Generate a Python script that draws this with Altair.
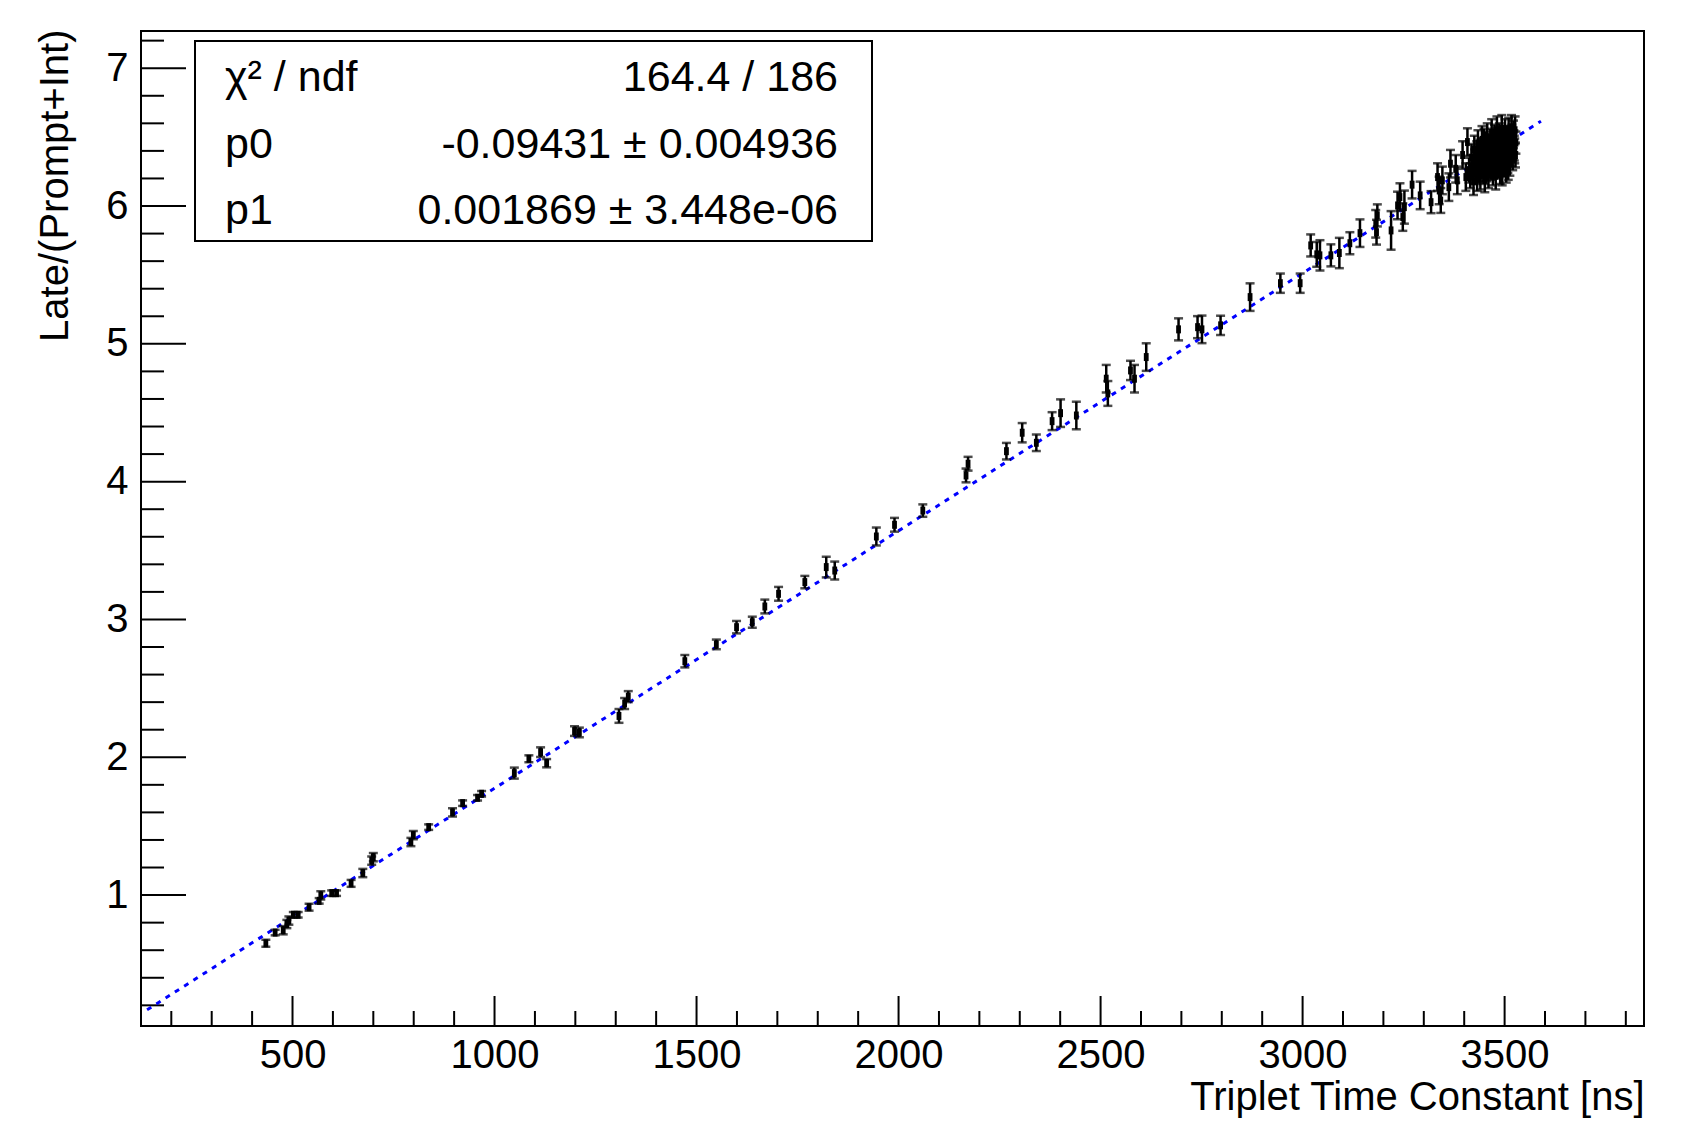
import altair as alt
import pandas as pd

# Measured points: triplet time constant [ns], Late/(Prompt+Int) ratio, and its uncertainty
triplet_tau = [
    434, 457, 477, 486, 491, 502, 514, 541, 566, 570, 597, 609, 645, 674, 696, 700,
    793, 799, 837, 896, 921, 958, 968,
    1049, 1085, 1114, 1129, 1198, 1210, 1308, 1322, 1331, 1471, 1549, 1599, 1638,
    1669, 1703, 1768, 1821, 1842, 1945, 1990, 2060, 2167, 2172,
    2267, 2306, 2341, 2380, 2401, 2440, 2514, 2518, 2574, 2584, 2613, 2693, 2740,
    2751, 2797, 2870, 2945, 2994, 3020, 3035, 3043, 3070, 3091,
    3117, 3142, 3181, 3183, 3185, 3219, 3235, 3241, 3248, 3252, 3271, 3291, 3318,
    3334, 3338, 3342, 3346, 3362, 3366, 3379, 3383, 3396, 3404, 3408,
    3412, 3415, 3418, 3421, 3423, 3425, 3426, 3427, 3429, 3431, 3432, 3433, 3434,
    3436, 3437, 3438, 3439, 3440, 3442, 3443, 3444, 3445, 3447, 3448, 3449, 3450,
    3451, 3453, 3454, 3456, 3457, 3458, 3459, 3460, 3462, 3463, 3464, 3465, 3466,
    3467, 3468, 3469, 3470, 3471, 3472, 3474, 3475, 3476, 3477, 3478, 3480, 3481,
    3482, 3483, 3484, 3485, 3486, 3487, 3489, 3490, 3492, 3493, 3494, 3495, 3496,
    3498, 3499, 3500, 3501, 3502, 3503, 3504, 3505, 3507, 3508, 3509, 3510, 3511,
    3512, 3513, 3514, 3516, 3517, 3518, 3519, 3520, 3521, 3522, 3523, 3524, 3525,
    3526, 3527, 3528,
]
late_ratio = [
    0.650, 0.728, 0.745, 0.790, 0.815, 0.857, 0.857, 0.912, 0.958, 0.998, 1.014, 1.014,
    1.085, 1.160, 1.250, 1.275, 1.385, 1.435, 1.493, 1.600, 1.667, 1.706, 1.735,
    1.885, 1.989, 2.037, 1.957, 2.190, 2.180, 2.300, 2.390, 2.440, 2.697, 2.819, 2.944,
    2.980, 3.094, 3.186, 3.271, 3.380, 3.355, 3.602, 3.687, 3.790, 4.045, 4.130,
    4.221, 4.355, 4.282, 4.439, 4.497, 4.480, 4.747, 4.640, 4.807, 4.747, 4.904, 5.105,
    5.121, 5.105, 5.134, 5.339, 5.440, 5.440, 5.714, 5.649, 5.642, 5.642, 5.659,
    5.730, 5.803, 5.871, 5.810, 5.932, 5.823, 6.004, 6.065, 5.920, 5.992, 6.155, 6.077,
    6.028, 6.210, 6.113, 6.040, 6.186, 6.137, 6.307, 6.270, 6.186, 6.370, 6.210, 6.464,
    6.26, 6.22, 6.35, 6.28, 6.18, 6.41, 6.33, 6.30, 6.24, 6.37, 6.20, 6.26, 6.45,
    6.31, 6.26, 6.28, 6.39, 6.22, 6.34, 6.40, 6.48, 6.29, 6.41, 6.25, 6.47, 6.36,
    6.19, 6.44, 6.32, 6.27, 6.50, 6.30, 6.38, 6.23, 6.42, 6.33, 6.35, 6.46, 6.28,
    6.40, 6.53, 6.37, 6.31, 6.25, 6.43, 6.31, 6.49, 6.45, 6.35, 6.22, 6.40, 6.55,
    6.48, 6.29, 6.45, 6.30, 6.36, 6.51, 6.26, 6.42, 6.33, 6.56, 6.24, 6.39, 6.47,
    6.30, 6.44, 6.40, 6.53, 6.37, 6.43, 6.27, 6.49, 6.41, 6.34, 6.28, 6.55, 6.45,
    6.38, 6.31, 6.50, 6.39, 6.57, 6.50, 6.43, 6.35, 6.44, 6.52, 6.47, 6.42, 6.40,
    6.55, 6.37, 6.46,
]
ratio_err = [
    0.025, 0.020, 0.030, 0.030, 0.030, 0.020, 0.020, 0.025, 0.020, 0.030, 0.020, 0.020,
    0.025, 0.030, 0.030, 0.030, 0.030, 0.030, 0.020, 0.030, 0.020, 0.020, 0.020,
    0.040, 0.025, 0.035, 0.030, 0.035, 0.035, 0.050, 0.040, 0.040, 0.045, 0.035, 0.045,
    0.040, 0.050, 0.050, 0.045, 0.075, 0.065, 0.065, 0.050, 0.045, 0.050, 0.050,
    0.060, 0.070, 0.060, 0.065, 0.100, 0.100, 0.100, 0.090, 0.070, 0.100, 0.100, 0.080,
    0.080, 0.100, 0.070, 0.100, 0.070, 0.070, 0.080, 0.090, 0.110, 0.080, 0.110,
    0.080, 0.100, 0.100, 0.090, 0.080, 0.140, 0.100, 0.100, 0.100, 0.120, 0.100, 0.100,
    0.080, 0.100, 0.100, 0.090, 0.100, 0.100, 0.100, 0.100, 0.100, 0.100, 0.100, 0.100,
    0.09, 0.09, 0.10, 0.09, 0.10, 0.10, 0.08, 0.09, 0.08, 0.10, 0.09, 0.09, 0.10,
    0.09, 0.08, 0.10, 0.09, 0.10, 0.09, 0.09, 0.10, 0.09, 0.08, 0.09, 0.09, 0.10,
    0.09, 0.10, 0.08, 0.09, 0.10, 0.10, 0.09, 0.10, 0.09, 0.08, 0.10, 0.10, 0.09,
    0.08, 0.10, 0.09, 0.10, 0.10, 0.08, 0.09, 0.10, 0.09, 0.09, 0.10, 0.09, 0.10,
    0.09, 0.08, 0.09, 0.10, 0.10, 0.09, 0.10, 0.08, 0.09, 0.10, 0.09, 0.09, 0.10,
    0.09, 0.08, 0.10, 0.10, 0.09, 0.10, 0.10, 0.09, 0.08, 0.10, 0.09, 0.09, 0.10,
    0.09, 0.09, 0.08, 0.10, 0.09, 0.09, 0.10, 0.09, 0.10, 0.10, 0.08, 0.09, 0.09,
    0.10, 0.09, 0.08,
]

# Linear fit results shown in the statistics box
fit_p0 = -0.09431
fit_p1 = 0.001869
fit_range = [140, 3590]
stat_names = ["χ² / ndf", "p0", "p1"]
stat_values = ["164.4 / 186", "-0.09431 ± 0.004936", "0.001869 ± 3.448e-06"]

# Axis tick positions
x_major = [500, 1000, 1500, 2000, 2500, 3000, 3500]
x_minor = [v for v in range(200, 3900, 100) if v % 500 != 0]
y_major = [1, 2, 3, 4, 5, 6, 7]
y_minor = [round(0.2 * k, 1) for k in range(1, 37) if k % 5 != 0]

W, H = 1503, 995
FONT = "Liberation Sans"

n = min(len(triplet_tau), len(late_ratio), len(ratio_err))
pts = pd.DataFrame({"x": triplet_tau[:n], "y": late_ratio[:n], "e": ratio_err[:n]})
pts["lo"] = pts["y"] - pts["e"]
pts["hi"] = pts["y"] + pts["e"]

fit = pd.DataFrame({"x": fit_range, "y": [fit_p0 + fit_p1 * v for v in fit_range]})

xs = alt.Scale(domain=[125, 3845], nice=False, zero=False)
ys = alt.Scale(domain=[0.05, 7.27], nice=False, zero=False)

x_axis = alt.Axis(
    values=x_major, format="d", title="Triplet Time Constant [ns]", grid=False,
    ticks=False, domain=False, labelFontSize=40, labelFont=FONT, labelPadding=9,
    labelColor="black", titleFont=FONT, titleFontSize=40, titleFontWeight="normal",
    titleColor="black", titleAnchor="end", titleAlign="right", titleX=W, titleY=83,
    titleBaseline="alphabetic",
)
y_axis = alt.Axis(
    values=y_major, format="d", title="Late/(Prompt+Int)", grid=False,
    ticks=False, domain=False, labelFontSize=40, labelFont=FONT, labelPadding=13,
    labelColor="black", titleFont=FONT, titleFontSize=40, titleFontWeight="normal",
    titleColor="black", titleAnchor="end", titleAngle=-90, titleAlign="right",
    titleBaseline="alphabetic", titleX=-74, titleY=-2,
)

X = alt.X("x:Q", scale=xs, axis=x_axis)
Y = alt.Y("y:Q", scale=ys, axis=y_axis)

# Inward-pointing ticks along the bottom and left edges
def xticks(vals, length):
    return alt.Chart(pd.DataFrame({"x": vals})).mark_rule(
        color="black", strokeWidth=2
    ).encode(x=X, y=alt.value(H), y2=alt.value(H - length))

def yticks(vals, length):
    return alt.Chart(pd.DataFrame({"y": vals})).mark_rule(
        color="black", strokeWidth=2
    ).encode(y=Y, x=alt.value(0), x2=alt.value(length))

bars = alt.Chart(pts).mark_rule(color="black", strokeWidth=2.5).encode(
    x=X, y=alt.Y("lo:Q", scale=ys, axis=y_axis), y2="hi:Q"
)
cap_lo = alt.Chart(pts).mark_tick(
    color="black", orient="horizontal", size=9, thickness=2.5
).encode(x=X, y=alt.Y("lo:Q", scale=ys, axis=y_axis))
cap_hi = alt.Chart(pts).mark_tick(
    color="black", orient="horizontal", size=9, thickness=2.5
).encode(x=X, y=alt.Y("hi:Q", scale=ys, axis=y_axis))
# Small upright filled rectangles as data markers
markers = alt.Chart(pts).mark_point(
    shape="M-0.6,-1L0.6,-1L0.6,1L-0.6,1Z", filled=True, color="black",
    size=64, opacity=1, strokeWidth=0,
).encode(x=X, y=Y)

fit_line = alt.Chart(fit).mark_line(
    color="#0000ff", strokeWidth=3, strokeDash=[5, 6]
).encode(x=X, y=Y)

# Statistics box
box = alt.Chart(pd.DataFrame({"k": [0]})).mark_rect(
    fill="white", stroke="black", strokeWidth=2
).encode(x=alt.value(54), x2=alt.value(731), y=alt.value(10), y2=alt.value(210))

stats = pd.DataFrame({
    "name": stat_names, "val": stat_values, "row": [60, 127, 193],
})
stat_names_txt = alt.Chart(stats).mark_text(
    font=FONT, fontSize=43, align="left", baseline="alphabetic", color="black"
).encode(x=alt.value(84), y=alt.Y("row:Q", scale=None), text="name:N")
stat_vals_txt = alt.Chart(stats).mark_text(
    font=FONT, fontSize=43, align="right", baseline="alphabetic", color="black"
).encode(x=alt.value(697), y=alt.Y("row:Q", scale=None), text="val:N")

chart = alt.layer(
    xticks(x_minor, 15), xticks(x_major, 30),
    yticks(y_minor, 23), yticks(y_major, 45),
    fit_line, bars, cap_lo, cap_hi, markers,
    box, stat_names_txt, stat_vals_txt,
).properties(
    width=W, height=H,
    autosize=alt.AutoSizeParams(type="none"),
    padding={"left": 141, "top": 31, "right": 42, "bottom": 108},
    background="white",
).configure_view(
    stroke="black", strokeWidth=2
)

chart.save("out.html", embed_options={"renderer": "svg", "actions": False})
